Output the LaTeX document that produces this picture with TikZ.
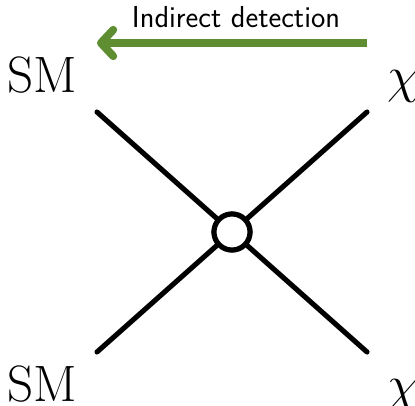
\documentclass[tikz,border=0pt]{standalone}
\usepackage{amsmath,amssymb}
\usepackage{tikz}
\usetikzlibrary{arrows.meta,positioning,calc}
\usepackage{xcolor}
\definecolor{leafgreen}{HTML}{5E8E31}

\begin{document}
\begin{tikzpicture}[
    x=0.02cm, y=-0.02cm,
    leg/.style={line width=2.9pt, line cap=round},
    vertex/.style={circle, draw=black, line width=2.9pt, fill=white,
      minimum size=0.72cm, inner sep=0pt},
    lab/.style={font=\Huge, scale=1.17, transform shape, anchor=base west, inner sep=0pt},
    detarr/.style={-{Straight Barb[length=7pt,width=15pt,line cap=round,round]},
      line width=4.5pt, draw=leafgreen},
  ]
  \useasboundingbox (0,0) rectangle (415,405);

  % =================== VERTEX ===================
  \node[vertex] (V) at (232,232) {};

  % External legs
  \coordinate (SMa) at (97,112);
  \coordinate (XA) at (367,112);
  \coordinate (SMb) at (97,352);
  \coordinate (XB) at (367,352);

  \draw[leg] (SMa) -- (V);
  \draw[leg] (XA) -- (V);
  \draw[leg] (SMb) -- (V);
  \draw[leg] (XB) -- (V);
  \node[vertex] at (V) {};

  % Particle labels
  \node[lab] (lSMa) at (7,93) {$\mathrm{SM}$};
  \node[lab] (lXA) at (387,93) {$\chi$};
  \node[lab] (lSMb) at (7,401) {$\mathrm{SM}$};
  \node[lab] (lXB) at (387,401) {$\chi$};

  % =================== DETECTION ARROW ===================
  \coordinate (Astart) at (367,43);
  \coordinate (Aend) at (97,43);
  \draw[detarr] (Astart) -- (Aend);
  \node[font=\LARGE\sffamily] (title) at (236,17) {Indirect detection};

\end{tikzpicture}
\end{document}
